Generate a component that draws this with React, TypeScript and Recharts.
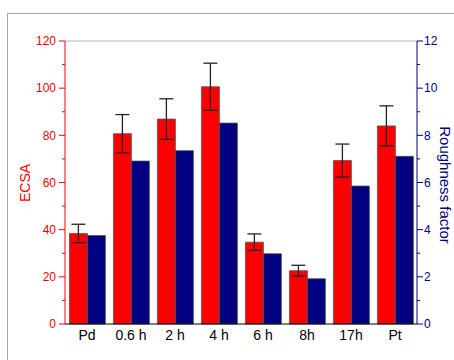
import React from 'react';
import {
  Bar,
  BarChart,
  ErrorBar,
  ReferenceLine,
  XAxis,
  YAxis,
} from 'recharts';

const RED = '#ff0000';
const NAVY = '#000080';

const categories = ['Pd', '0.6 h', '2 h', '4 h', '6 h', '8h', '17h', 'Pt'];
const ecsa = [38.4, 80.7, 86.9, 100.6, 34.7, 22.6, 69.3, 84.0];
const ecsaErr = [3.9, 8.1, 8.6, 10.0, 3.5, 2.3, 7.0, 8.5];
const roughness = [3.75, 6.91, 7.35, 8.52, 2.98, 1.92, 5.85, 7.11];

const ecsaTicks = [0, 10, 20, 30, 40, 50, 60, 70, 80, 90, 100, 110, 120];
const roughTicks = [0, 1, 2, 3, 4, 5, 6, 7, 8, 9, 10, 11, 12];

const data = categories.map((name, i) => ({
  name,
  ecsa: ecsa[i],
  ecsaErr: ecsaErr[i],
  roughness: roughness[i],
}));

// major ticks carry a label, minor ticks are half length
const LeftTick = (props: any) => {
  const { x, y, payload } = props;
  const v = payload.value;
  const major = v % 20 === 0;
  return (
    <g>
      <line x1={x - (major ? 6 : 3)} x2={x} y1={y} y2={y} stroke={RED} />
      {major && (
        <text x={x - 9} y={y} dy="0.36em" textAnchor="end" fill={RED} fontSize={12}>
          {v}
        </text>
      )}
    </g>
  );
};

const RightTick = (props: any) => {
  const { x, y, payload } = props;
  const v = payload.value;
  const major = v % 2 === 0;
  return (
    <g>
      <line x1={x} x2={x + (major ? 6 : 3)} y1={y} y2={y} stroke={NAVY} />
      {major && (
        <text x={x + 7} y={y} dy="0.36em" textAnchor="start" fill={NAVY} fontSize={12}>
          {v}
        </text>
      )}
    </g>
  );
};

export default function App() {
  return (
    <div
      style={{
        position: 'relative',
        width: 454,
        height: 360,
        background: '#fff',
        overflow: 'hidden',
        fontFamily: '"Liberation Sans", Arial, sans-serif',
      }}
    >
      <style>{'body{margin:0}'}</style>
      <div
        style={{
          position: 'absolute',
          left: 7,
          top: 13,
          width: 470,
          height: 380,
          borderLeft: '1px solid #a8a8a8',
          borderTop: '1px solid #a8a8a8',
        }}
      />
      <BarChart
        width={454}
        height={360}
        data={data}
        margin={{ top: 41, right: 0, bottom: 0, left: 0 }}
        barCategoryGap="10%"
        barGap={0}
      >
        <XAxis
          dataKey="name"
          height={36}
          tickLine={false}
          tickSize={0}
          tickMargin={6}
          axisLine={{ stroke: '#000' }}
          tick={{ fill: '#000', fontSize: 14 }}
          interval={0}
        />
        <YAxis
          yAxisId="left"
          width={65}
          domain={[0, 120]}
          ticks={ecsaTicks}
          interval={0}
          tickLine={false}
          tickSize={0}
          tickMargin={0}
          axisLine={{ stroke: RED }}
          tick={<LeftTick />}
          label={{
            value: 'ECSA',
            angle: -90,
            position: 'center',
            dx: -7.5,
            dy: 0.5,
            fill: RED,
            fontSize: 14,
          }}
        />
        <YAxis
          yAxisId="right"
          orientation="right"
          width={37}
          domain={[0, 12]}
          ticks={roughTicks}
          interval={0}
          tickLine={false}
          tickSize={0}
          tickMargin={0}
          axisLine={{ stroke: NAVY }}
          tick={<RightTick />}
          label={{
            value: 'Roughness factor',
            angle: 90,
            position: 'center',
            dx: 10,
            dy: 2.5,
            fill: NAVY,
            fontSize: 15,
          }}
        />
        <ReferenceLine yAxisId="left" y={120} stroke="#b4b4b4" />
        <Bar
          yAxisId="left"
          dataKey="ecsa"
          fill={RED}
          stroke="#555"
          strokeWidth={0.8}
          isAnimationActive={false}
        >
          <ErrorBar dataKey="ecsaErr" direction="y" width={7} stroke="#222" strokeWidth={1.3} />
        </Bar>
        <Bar
          yAxisId="right"
          dataKey="roughness"
          fill={NAVY}
          stroke="#555"
          strokeWidth={0.8}
          isAnimationActive={false}
        />
      </BarChart>
    </div>
  );
}
